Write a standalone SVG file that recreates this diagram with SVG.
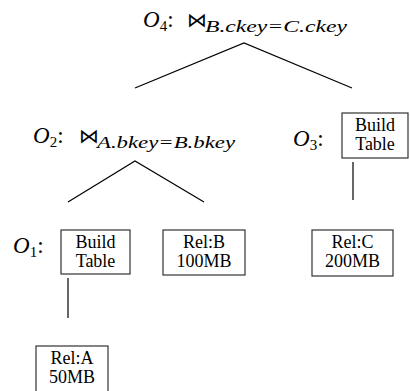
<svg xmlns="http://www.w3.org/2000/svg" width="410" height="391" viewBox="0 0 410 391">
<style>
  text { font-family: "Liberation Serif", "DejaVu Serif", serif; fill: #000; }
  .lab { font-size: 23px; }
  .it { font-style: italic; }
  .sub { font-size: 15px; }
  .bow { font-family: "DejaVu Serif", "DejaVu Sans", serif; font-size: 20px; }
  .subit { font-size: 16px; font-style: italic; }
  .box { fill: #fff; stroke: #333; stroke-width: 1.2; }
  .bt { font-size: 18px; text-anchor: middle; }
  .edge { stroke: #000; stroke-width: 1.2; fill: none; }
</style>
<rect width="410" height="391" fill="#fff"/>
<g id="connectors">
  <polyline class="edge" points="135,88 244,43 352,88"/>
  <polyline class="edge" points="68,202 135,161 204,202"/>
  <line class="edge" x1="68" y1="278" x2="68" y2="318"/>
  <line class="edge" x1="353" y1="162" x2="353" y2="200"/>
</g>
<g id="O4">
  <text class="lab" x="143" y="27"><tspan class="it">O</tspan><tspan class="sub" dy="4">4</tspan><tspan dy="-4">:</tspan></text>
  <text class="bow" x="187" y="27">⋈</text>
  <text class="subit" x="205" y="32" textLength="142" lengthAdjust="spacingAndGlyphs">B.ckey=C.ckey</text>
</g>
<g id="O2">
  <text class="lab" x="33" y="143"><tspan class="it">O</tspan><tspan class="sub" dy="4">2</tspan><tspan dy="-4">:</tspan></text>
  <text class="bow" x="79" y="143">⋈</text>
  <text class="subit" x="97" y="148" textLength="138" lengthAdjust="spacingAndGlyphs">A.bkey=B.bkey</text>
</g>
<g id="O3">
  <text class="lab" x="293" y="146"><tspan class="it">O</tspan><tspan class="sub" dy="4">3</tspan><tspan dy="-4">:</tspan></text>
  <rect class="box" x="342" y="113" width="66" height="45"/>
  <text class="bt" x="375" y="131">Build</text>
  <text class="bt" x="375" y="150">Table</text>
</g>
<g id="O1">
  <text class="lab" x="13" y="253"><tspan class="it">O</tspan><tspan class="sub" dy="4">1</tspan><tspan dy="-4">:</tspan></text>
  <rect class="box" x="61" y="230" width="69" height="44"/>
  <text class="bt" x="95.5" y="248">Build</text>
  <text class="bt" x="95.5" y="267">Table</text>
</g>
<g id="RelB">
  <rect class="box" x="163" y="230" width="82" height="45"/>
  <text class="bt" x="204" y="248">Rel:B</text>
  <text class="bt" x="204" y="267">100MB</text>
</g>
<g id="RelC">
  <rect class="box" x="312" y="230" width="81" height="46"/>
  <text class="bt" x="352.5" y="248">Rel:C</text>
  <text class="bt" x="352.5" y="267">200MB</text>
</g>
<g id="RelA">
  <rect class="box" x="36" y="346" width="72" height="46"/>
  <text class="bt" x="72" y="364">Rel:A</text>
  <text class="bt" x="72" y="383">50MB</text>
</g>
</svg>
